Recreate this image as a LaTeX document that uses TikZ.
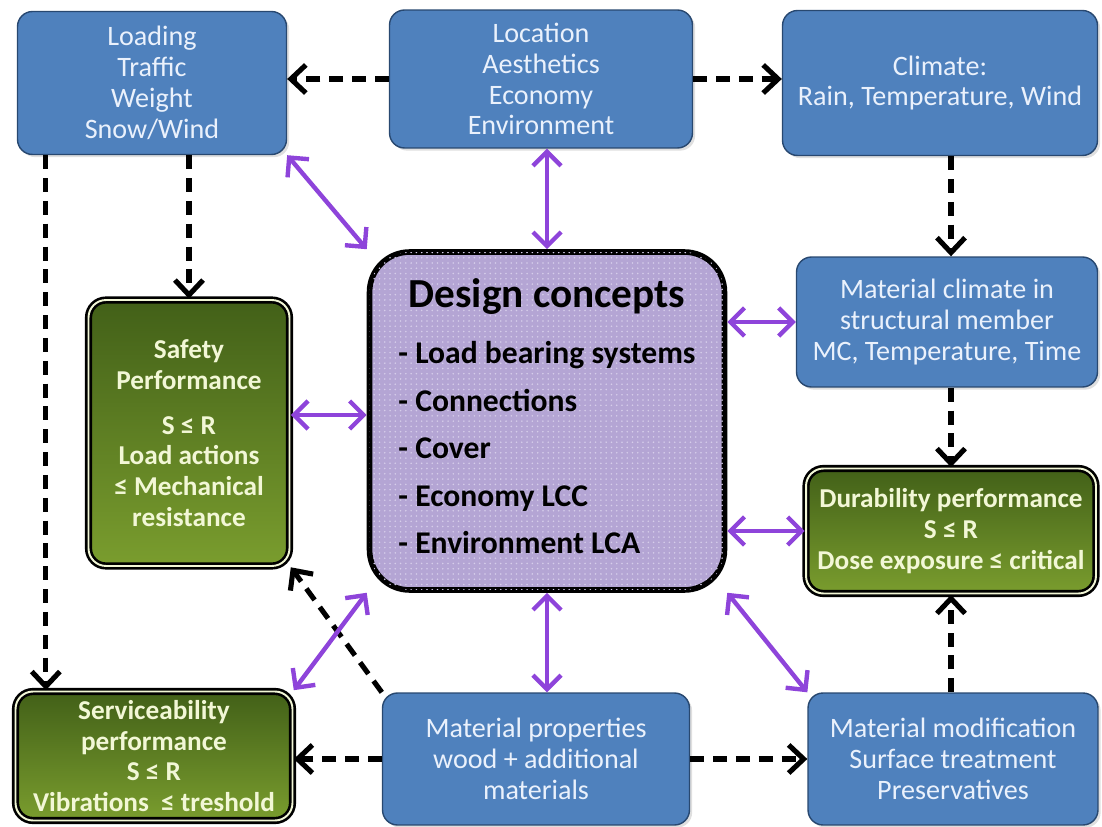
\documentclass[tikz,border=0pt]{standalone}
\usepackage{fontspec}
\setmainfont{Carlito}
\usepackage{tikz}
\usetikzlibrary{arrows.meta,shadows,patterns}

\definecolor{boxblue}{RGB}{79,129,189}
\definecolor{boxedge}{RGB}{40,72,112}
\definecolor{boxtext}{RGB}{234,241,252}
\definecolor{greentop}{RGB}{66,96,24}
\definecolor{greenbot}{RGB}{122,157,46}
\definecolor{greentext}{RGB}{242,247,214}
\definecolor{lilac}{RGB}{180,165,212}
\definecolor{lilacdot}{RGB}{214,205,234}
\definecolor{linkpurple}{RGB}{142,68,218}

\begin{document}
\begin{tikzpicture}[x=0.02cm,y=-0.02cm]
\tikzstyle{cause}=[rectangle,rounded corners=0.3cm,draw=boxedge,line width=0.8pt,fill=boxblue,text=boxtext,align=center,font=\fontsize{16}{17.6}\selectfont,drop shadow={opacity=0.25,shadow xshift=1.5pt,shadow yshift=-1.5pt}]
\tikzstyle{perf}=[rectangle,rounded corners=0.35cm,draw=black,double=greentext,double distance=1.1pt,line width=1.5pt,top color=greentop,bottom color=greenbot,text=greentext,align=center,font=\bfseries\fontsize{15.5}{17.5}\selectfont]
\tikzstyle{concept}=[rectangle,rounded corners=0.8cm,draw=black,line width=3.2pt,fill=lilac,postaction={pattern=dots,pattern color=lilacdot},font=\bfseries\fontsize{18}{27}\selectfont,inner sep=0pt]
\tikzstyle{flow}=[draw=black,line width=2.9pt,dash pattern=on 8pt off 5pt,-{Straight Barb[length=8.5pt,width=16pt]}]
\tikzstyle{link}=[draw=linkpurple,line width=2.5pt,{Straight Barb[length=8pt,width=16pt]}-{Straight Barb[length=8pt,width=16pt]}]
\useasboundingbox (0,0) rectangle (1102,827);

\node[cause,minimum width=5.38cm,minimum height=2.86cm] (load) at (152,83) {Loading\\Traffic\\Weight\\Snow/Wind};
\node[cause,minimum width=6.06cm,minimum height=2.76cm] (loc) at (541,79) {Location\\Aesthetics\\Economy\\Environment};
\node[cause,minimum width=6.3cm,minimum height=2.9cm] (clim) at (940,83) {Climate:\\Rain, Temperature, Wind};
\node[cause,minimum width=6.02cm,minimum height=2.6cm] (mclim) at (947,322) {Material climate in\\structural member\\MC, Temperature, Time};
\node[cause,minimum width=6.14cm,minimum height=2.64cm] (mprop) at (536,759) {Material properties\\wood + additional\\materials};
\node[cause,minimum width=5.8cm,minimum height=2.64cm] (mmod) at (953,759) {Material modification\\Surface treatment\\Preservatives};

\node[perf,minimum width=4.02cm,minimum height=5.32cm] (safety) at (189,433) {Safety\\Performance\\[8pt]S ≤ R\\Load actions\\≤ Mechanical\\resistance};
\node[perf,minimum width=5.8cm,minimum height=2.5cm] (dur) at (951,531) {Durability performance\\S ≤ R\\Dose exposure ≤ critical};
\node[perf,minimum width=5.54cm,minimum height=2.58cm] (serv) at (154,756) {Serviceability\\performance\\S ≤ R\\Vibrations \ ≤ treshold};

\node[concept,minimum width=7.1cm,minimum height=6.76cm] (core) at (547,421) {\begin{tabular}{@{}l@{}}
\multicolumn{1}{@{}c@{}}{\fontsize{23.5}{26}\selectfont Design concepts}\\[5pt]
- Load bearing systems\\
- Connections\\
- Cover\\
- Economy LCC\\
- Environment LCA
\end{tabular}};

% dashed influences
\coordinate (lx) at ([xshift=0.58cm]load.south west);
\coordinate (sx) at ([yshift=0.36cm]safety.east);
\draw[flow] (loc.west) -- (loc.west -| load.east);
\draw[flow] (loc.east) -- (loc.east -| clim.west);
\draw[flow] (load.south -| safety.north) -- (safety.north);
\draw[flow] (lx) -- (lx |- serv.north);
\draw[flow] (clim.south -| dur.north) -- (mclim.north -| dur.north);
\draw[flow] (mclim.south -| dur.north) -- (dur.north);
\draw[flow] (mmod.north -| dur.south) -- (dur.south);
\draw[flow] (mprop.west) -- (mprop.west -| serv.east);
\draw[flow] (mprop.east) -- (mmod.west);
\draw[flow] (mprop.north west) -- (safety.south east);

% two-way links with the design concepts
\draw[link] (load.south east) -- (core.north west);
\draw[link] (loc.south -| core.north) -- (core.north);
\draw[link] (core.east |- mclim.west) -- (mclim.west);
\draw[link] (sx) -- (sx -| core.west);
\draw[link] (core.east |- dur.west) -- (dur.west);
\draw[link] (core.south west) -- (serv.north east);
\draw[link] (core.south) -- (core.south |- mprop.north);
\draw[link] (core.south east) -- (mmod.north west);
\end{tikzpicture}
\end{document}
